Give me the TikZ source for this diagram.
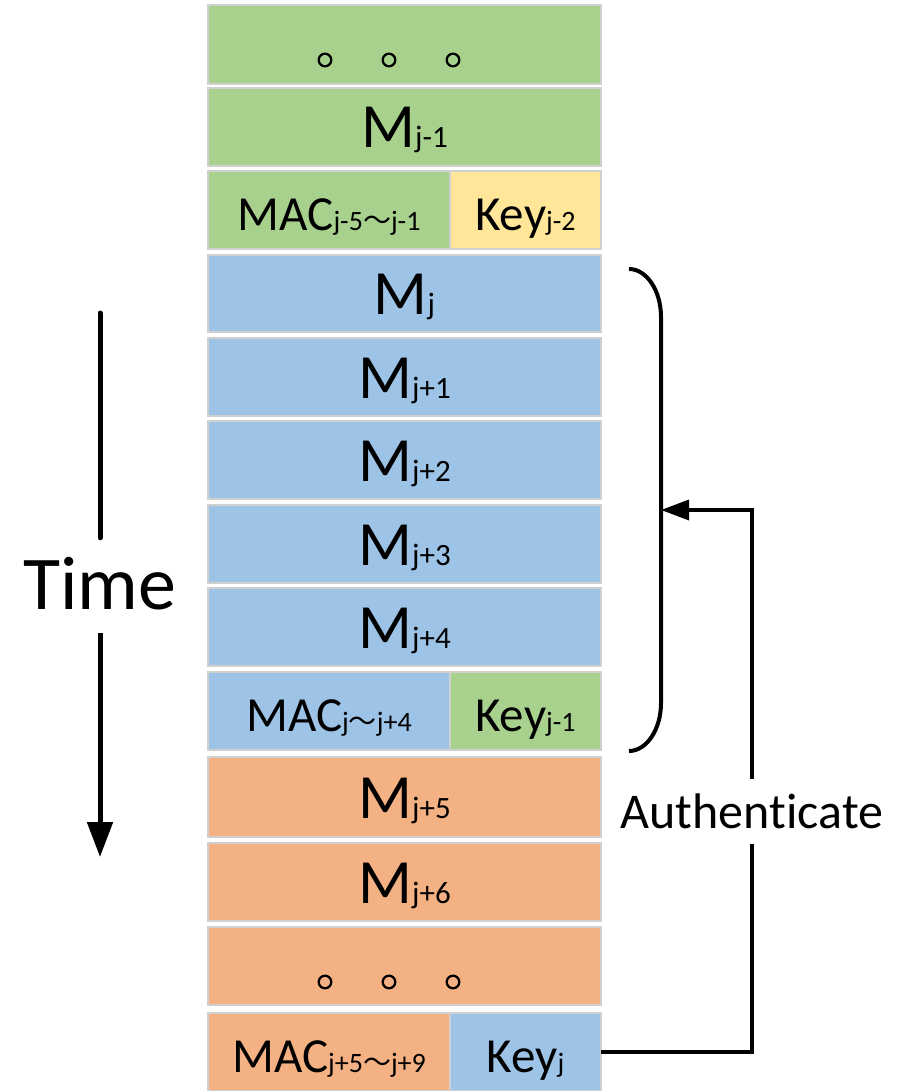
\documentclass[tikz,border=0pt]{standalone}
\usepackage{fontspec}
\setmainfont[Ligatures=NoCommon]{Carlito}
\newfontfamily\cjk{Noto Sans CJK SC}
\usetikzlibrary{arrows.meta}
\definecolor{cgreen}{HTML}{A9D18E}
\definecolor{cyellow}{HTML}{FFE699}
\definecolor{cblue}{HTML}{9DC3E6}
\definecolor{corange}{HTML}{F4B183}
\definecolor{cellgray}{HTML}{D0D0D0}
\newcommand\subM[1]{{\fontsize{31}{31}\selectfont #1}}
\newcommand\subK[1]{{\fontsize{28}{28}\selectfont #1}}
\newcommand\tld{{\cjk ～}}
\begin{document}
\begin{tikzpicture}[x=1pt,y=-1pt,
  cell/.style={draw=cellgray, line width=1.5pt, inner sep=0pt, outer sep=0pt},
  full/.style={cell, minimum width=393pt},
  lcell/.style={cell, minimum width=242pt},
  rcell/.style={cell, minimum width=151pt},
  mlab/.style={anchor=base, inner sep=0pt, font=\fontsize{63}{63}\selectfont},
  klab/.style={anchor=base, inner sep=0pt, font=\fontsize{49}{49}\selectfont},
  dot/.style={line width=2.3pt},
  thick line/.style={line width=3.5pt}
]
\useasboundingbox (0,0) rectangle (915,1091);
% rows
\node[full, fill=cgreen, minimum height=79pt] (r1) at (404.5,44.5) {};
\node[full, fill=cgreen, minimum height=78pt] (r2) at (404.5,127) {};
\node[lcell, fill=cgreen, minimum height=78pt] (m3) at (329,210) {};
\node[rcell, fill=cyellow, minimum height=78pt] (k3) at (525.5,210) {};
\node[full, fill=cblue, minimum height=77pt] (r4) at (404.5,293.5) {};
\node[full, fill=cblue, minimum height=78pt] (r5) at (404.5,377) {};
\node[full, fill=cblue, minimum height=78pt] (r6) at (404.5,460) {};
\node[full, fill=cblue, minimum height=78pt] (r7) at (404.5,544) {};
\node[full, fill=cblue, minimum height=78pt] (r8) at (404.5,627) {};
\node[lcell, fill=cblue, minimum height=78pt] (m9) at (329,711) {};
\node[rcell, fill=cgreen, minimum height=78pt] (k9) at (525.5,711) {};
\node[full, fill=corange, minimum height=80pt] (r10) at (404.5,797) {};
\node[full, fill=corange, minimum height=78pt] (r11) at (404.5,882) {};
\node[full, fill=corange, minimum height=78pt] (r12) at (404.5,966) {};
\node[lcell, fill=corange, minimum height=78pt] (m13) at (329,1052) {};
\node[rcell, fill=cblue, minimum height=78pt] (k13) at (525.5,1052) {};
% dots
\foreach \x in {325,389,453} {
  \draw[dot] (\x,60) circle (6.3);
  \draw[dot] (\x,982) circle (6.3);
}
% labels
\node[mlab] (t2) at (404.5,148) {M\subM{j-1}};
\node[klab] (tm3) at (329,230) {MAC\subK{j-5\tld j-1}};
\node[klab] (tk3) at (525.5,230) {Key\subK{j-2}};
\node[mlab] (t4) at (404.5,314.5) {M\subM{j}};
\node[mlab] (t5) at (404.5,398) {M\subM{j+1}};
\node[mlab] (t6) at (404.5,481) {M\subM{j+2}};
\node[mlab] (t7) at (404.5,565) {M\subM{j+3}};
\node[mlab] (t8) at (404.5,648) {M\subM{j+4}};
\node[klab] (tm9) at (329,731) {MAC\subK{j\tld j+4}};
\node[klab] (tk9) at (525.5,731) {Key\subK{j-1}};
\node[mlab] (t10) at (404.5,818) {M\subM{j+5}};
\node[mlab] (t11) at (404.5,903) {M\subM{j+6}};
\node[klab] (tm13) at (329,1072) {MAC\subK{j+5\tld j+9}};
\node[klab] (tk13) at (525.5,1072) {Key\subK{j}};
% bracket
\draw[line width=4pt] (629,269) .. controls (646.6,269) and (661,290.6) .. (661,317)
  -- (661,703) .. controls (661,729.4) and (646.6,751) .. (629,751);
\coordinate (bt) at (661,510);
% authenticate connector
\node[anchor=base, inner xsep=0pt, inner ysep=12pt, text height=37pt, text depth=4pt,
  font=\fontsize{50}{50}\selectfont] (auth) at (752,828) {Authenticate};
\draw[thick line] (k13.east) -| (auth.south);
\draw[thick line, -{Triangle[length=28pt,width=20pt]}] (auth.north) |- (bt);
% time arrow
\coordinate (ts) at (100,313);
\coordinate (te) at (100,857);
\node[anchor=base, inner sep=0pt, inner ysep=11pt, text height=60pt, text depth=13pt,
  font=\fontsize{76}{76}\selectfont] (time) at (100,609) {Time};
\draw[line width=5pt, line cap=round] (ts) -- (time.north);
\draw[line width=5pt, -{Triangle[length=35pt,width=25pt]}] (time.south) -- (te);
\end{tikzpicture}
\end{document}
